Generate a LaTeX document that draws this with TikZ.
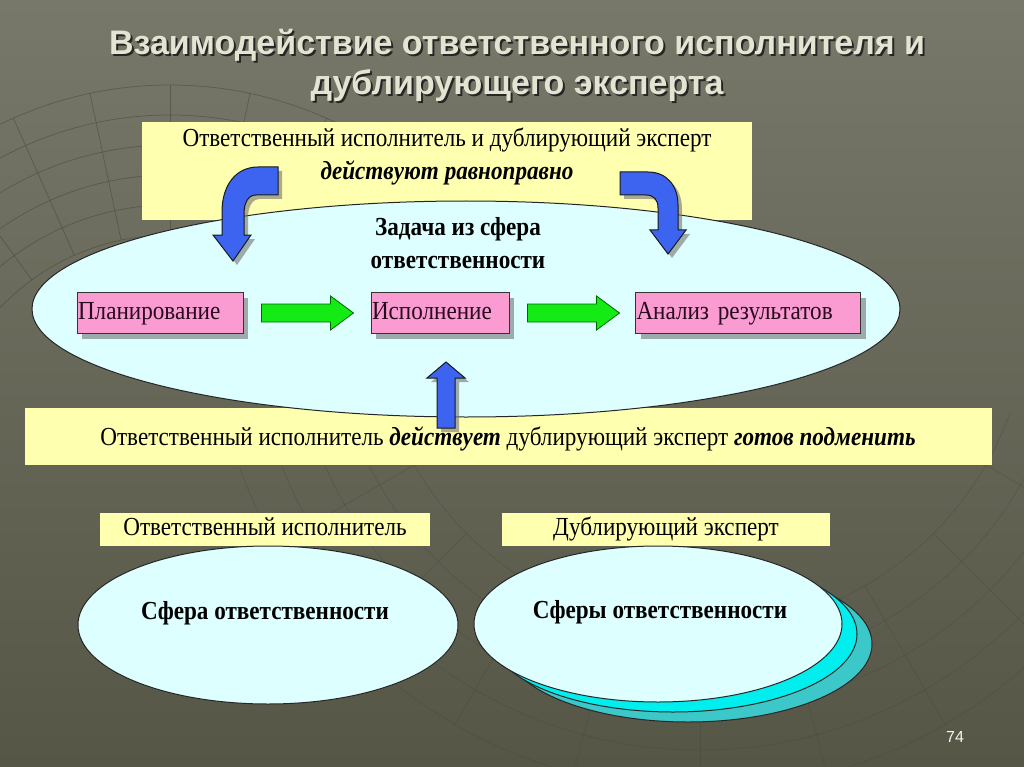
\documentclass[tikz,border=0pt]{standalone}
\usepackage{fontspec}
\setmainfont{Liberation Serif}[FakeStretch=0.89]
\newfontfamily\headfont{Liberation Sans}
\usetikzlibrary{shapes.geometric,shadows}
\definecolor{slidetop}{RGB}{119,120,105}
\definecolor{slidebot}{RGB}{86,86,71}
\definecolor{gridline}{RGB}{70,70,58}
\definecolor{notefill}{RGB}{255,255,176}
\definecolor{spherefill}{RGB}{221,255,255}
\definecolor{stepfill}{RGB}{250,155,210}
\definecolor{steptext}{RGB}{40,10,30}
\definecolor{gofill}{RGB}{20,235,20}
\definecolor{turnfill}{RGB}{60,100,240}
\definecolor{layerone}{RGB}{0,238,238}
\definecolor{layertwo}{RGB}{60,200,200}
\definecolor{headtext}{RGB}{228,228,210}
\tikzset{
  bodytext/.style={font=\fontsize{26}{33}\selectfont},
  notebox/.style={fill=notefill, inner sep=0pt},
  tagbox/.style={notebox, bodytext, minimum height=33, text height=18, text depth=6},
  sphere/.style={ellipse, draw=black!85, line width=1pt, fill=spherefill, inner sep=0pt},
  taskbox/.style={bodytext, draw=black!80, line width=1pt, fill=stepfill, text=steptext,
    minimum height=41, text height=18, text depth=6, inner xsep=1pt, align=left,
    drop shadow={shadow xshift=5pt, shadow yshift=-5pt, fill=black!55, opacity=0.6}},
  gostep/.style={draw=black!60!green, line width=0.8pt, fill=gofill},
  turnstep/.style={draw=black!90, line width=1pt, fill=turnfill,
    drop shadow={shadow xshift=4pt, shadow yshift=-4pt, fill=black!55, opacity=0.6}},
  gridarc/.style={draw=gridline, line width=0.7pt, opacity=0.55}
}
\begin{document}
\begin{tikzpicture}[x=1pt,y=-1pt]
      \shade[top color=slidetop, bottom color=slidebot] (0,0) rectangle (1024,767);
      \useasboundingbox (0,0) rectangle (1024,767);
      \foreach \r in {235,265,...,385}
        \draw[gridarc] (170,470) ++(180:\r) arc[start angle=180, end angle=310, radius=\r];
      \foreach \a in {186,198,...,306}
        \draw[gridarc] (170,470) ++(\a:235) -- ++(\a:150);
      \foreach \r in {330,370,...,490}
        \draw[gridarc, opacity=0.35] (700,300) ++(20:\r) arc[start angle=20, end angle=160, radius=\r];
      \foreach \a in {30,45,...,150}
        \draw[gridarc, opacity=0.35] (700,300) ++(\a:330) -- ++(\a:160);
      \node[font=\headfont\bfseries\fontsize{34}{40}\selectfont, align=center, text=black!85] (titleshade) at (519,67)
        {Взаимодействие ответственного исполнителя и\\дублирующего эксперта};
      \node[font=\headfont\bfseries\fontsize{34}{40}\selectfont, align=center, text=headtext] (title) at (517,65)
        {Взаимодействие ответственного исполнителя и\\дублирующего эксперта};
      \node[notebox, minimum width=610, minimum height=98] (equal) at (447,171) {};
      \node[bodytext, align=center, below=3pt] (equaltext) at (equal.north)
        {Ответственный исполнитель и дублирующий эксперт\\\textbf{\textit{действуют равноправно}}};
      \node[notebox, minimum width=967, minimum height=57] (stand) at (508,436) {};
      \node[sphere, minimum width=868, minimum height=216] (task) at (466,309) {};
      \node[bodytext, font=\fontsize{26}{33}\selectfont\bfseries, align=center] (tasktext) at (458,243)
        {Задача из сфера\\ответственности};
      \node[taskbox, text width=164] (plan) at (160,313) {Планирование};
      \node[taskbox, text width=136] (exec) at (440,313) {Исполнение};
      \node[taskbox, text width=223] (check) at (748,313) {Анализ результатов};
      \draw[gostep] ([xshift=18]plan.east) ++(0,-9) -- ++(69,0) -- ++(0,-8) -- ++(23,17) -- ++(-23,17) -- ++(0,-8) -- ++(-69,0) -- cycle;
      \draw[gostep] ([xshift=18]exec.east) ++(0,-9) -- ++(69,0) -- ++(0,-8) -- ++(23,17) -- ++(-23,17) -- ++(0,-8) -- ++(-69,0) -- cycle;
      \draw[turnstep] (278,167) -- (278,195) -- (256,195) .. controls (248,195) and (244,203) .. (244,214) -- (244,235)
        -- (251,235) -- (233,261) -- (213,235) -- (222,235) -- (222,212) .. controls (222,185) and (236,167) .. (258,167) -- cycle;
      \draw[turnstep] (620,172) -- (648,172) .. controls (667,172) and (678,186) .. (678,205) -- (678,230)
        -- (686,230) -- (668,254) -- (650,230) -- (658,230) -- (658,208) .. controls (658,200) and (654,195) .. (646,195) -- (620,195) -- cycle;
      \node[bodytext] (standtext) at (508,439)
        {Ответственный исполнитель \textbf{\textit{действует}} дублирующий эксперт \textbf{\textit{готов подменить}}};
      \draw[turnstep] ([shift={(6,28)}]exec.south) -- ++(19,16) -- ++(-10,0) -- ++(0,50) -- ++(-18,0) -- ++(0,-50) -- ++(-10,0) -- cycle;
      \node[tagbox, minimum width=330] (doer) at (265,529) {Ответственный исполнитель};
      \node[tagbox, minimum width=328] (backup) at (666,529) {Дублирующий эксперт};
      \node[sphere, minimum width=380, minimum height=158] (ownsphere) at (268,625) {};
      \node[bodytext, font=\fontsize{26}{33}\selectfont\bfseries] (owntext) at (265,613) {Сфера ответственности};
      \node[sphere, fill=layertwo, minimum width=368, minimum height=156] (layer2) at (688,644) {};
      \node[sphere, fill=layerone, minimum width=368, minimum height=156] (layer1) at (673,634) {};
      \node[sphere, minimum width=368, minimum height=156] (manysphere) at (658,624) {};
      \node[bodytext, font=\fontsize{26}{33}\selectfont\bfseries] (manytext) at (660,612) {Сферы ответственности};
      \node[font=\headfont\fontsize{16}{16}\selectfont, text=white!92!gray] (pageno) at (955,737) {74};
\end{tikzpicture}
\end{document}
